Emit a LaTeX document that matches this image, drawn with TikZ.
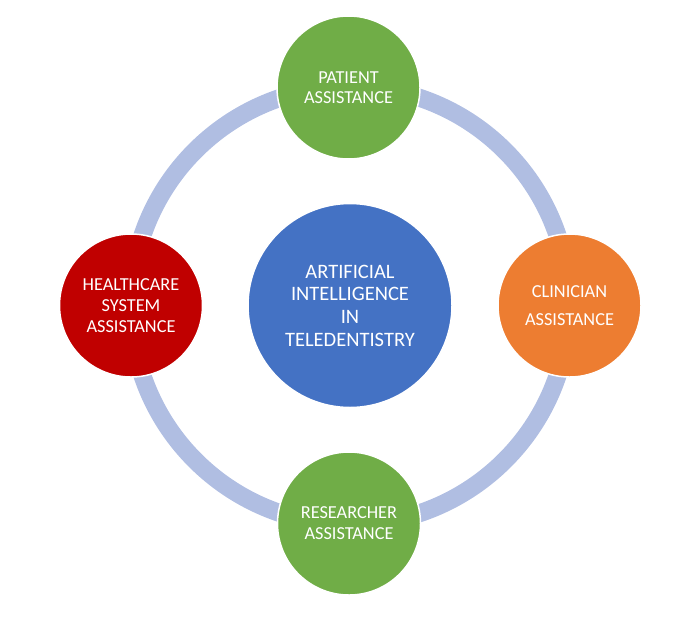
\documentclass[tikz,border=0pt]{standalone}
\usepackage{fontspec}
\setmainfont{Carlito}
\definecolor{ringc}{RGB}{176,190,226}
\definecolor{gr}{RGB}{112,173,71}
\definecolor{orng}{RGB}{237,125,49}
\definecolor{blu}{RGB}{68,114,196}
\definecolor{rd}{RGB}{192,0,0}
\begin{document}
\begin{tikzpicture}[x=1pt,y=-1pt,
  bub/.style={circle, draw=white, line width=1.5pt, text=white, align=center, inner sep=0pt, minimum size=143pt,
    font=\fontsize{18.3}{21}\selectfont},
  hub/.style={circle, draw=white, line width=1.5pt, text=white, align=center, inner sep=0pt, minimum size=204pt,
    font=\fontsize{20.5}{22.7}\selectfont}]
\useasboundingbox (0,0) rectangle (700,616);
\coordinate (ctr) at (350,305.5);
\draw[ringc, line width=18pt] (ctr) circle[radius=219];
\node[hub, fill=blu] (ai) at (ctr) {ARTIFICIAL\\INTELLIGENCE\\IN\\TELEDENTISTRY};
\node[bub, fill=gr, font=\fontsize{18.3}{20}\selectfont] (pat) at (348.5,87.5) {PATIENT\\ASSISTANCE};
\node[bub, fill=orng, font=\fontsize{18.3}{28}\selectfont] (cli) at (569.5,305.5) {CLINICIAN\\ASSISTANCE};
\node[bub, fill=gr] (res) at (349,523.5) {RESEARCHER\\ASSISTANCE};
\node[bub, fill=rd] (hea) at (131,305.5) {HEALTHCARE\\SYSTEM\\ASSISTANCE};
\end{tikzpicture}
\end{document}
